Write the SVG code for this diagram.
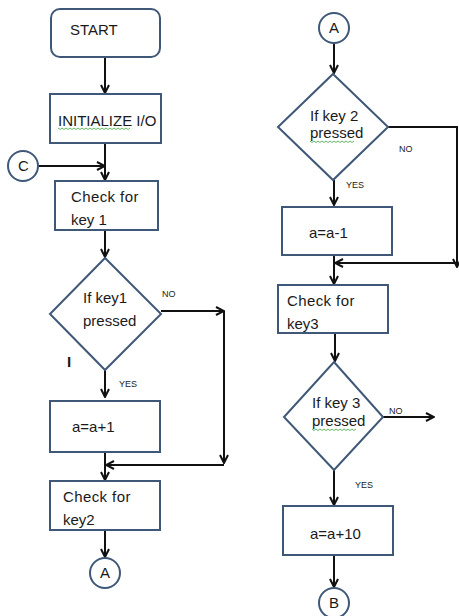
<svg xmlns="http://www.w3.org/2000/svg" width="459" height="616" viewBox="0 0 459 616">
<style>
.s{fill:#fff;stroke:#3f5878;stroke-width:2}
.t{font-family:"Liberation Sans",Arial,sans-serif;font-size:15px;fill:#1a1a1a}
.sm{font-family:"Liberation Sans",Arial,sans-serif;font-size:9px;fill:#1a1a1a}
.c{fill:none;stroke:#111;stroke-width:2}
.w{fill:none;stroke:#3da33d;stroke-width:0.8}
</style>
<defs>
<marker id="ah" viewBox="0 0 10 10" refX="9" refY="5" markerWidth="5" markerHeight="5" orient="auto" markerUnits="strokeWidth">
<path d="M1,1 L9,5 L1,9" fill="none" stroke="#111" stroke-width="2"/>
</marker>
</defs>
<rect width="459" height="616" fill="#fff"/>
<g id="connectors">
<path class="c" d="M105,58 V93" marker-end="url(#ah)"/>
<path class="c" d="M105,143 V180" marker-end="url(#ah)"/>
<path class="c" d="M39,166 H105" marker-end="url(#ah)"/>
<path class="c" d="M105,230 V257" marker-end="url(#ah)"/>
<path class="c" d="M161,311 H224" marker-end="url(#ah)"/>
<path class="c" d="M224,311 V463" marker-end="url(#ah)"/>
<path class="c" d="M224,465 H106" marker-end="url(#ah)"/>
<path class="c" d="M105,370 V397" marker-end="url(#ah)"/>
<path class="c" d="M105,452 V480" marker-end="url(#ah)"/>
<path class="c" d="M105,530 V557" marker-end="url(#ah)"/>
<path class="c" d="M334,44 V73" marker-end="url(#ah)"/>
<path class="c" d="M388,127 H457 V267" marker-end="url(#ah)"/>
<path class="c" d="M457,263 H335" marker-end="url(#ah)"/>
<path class="c" d="M334,180 V205" marker-end="url(#ah)"/>
<path class="c" d="M334,255 V284" marker-end="url(#ah)"/>
<path class="c" d="M335,333 V361" marker-end="url(#ah)"/>
<path class="c" d="M383,417 H434" marker-end="url(#ah)"/>
<path class="c" d="M334,470 V505" marker-end="url(#ah)"/>
<path class="c" d="M334,555 V587" marker-end="url(#ah)"/>
</g>
<g id="start"><rect class="s" x="51" y="9" width="109" height="48" rx="9"/><text class="t" x="70" y="35" font-size="14">START</text></g>
<g id="init"><rect class="s" x="50" y="94" width="111" height="49"/><text class="t" x="58" y="126" font-size="13">INITIALIZE  I/O</text><path class="w" d="M58,128 l2,1.5 2,-1.5 2,1.5 2,-1.5 2,1.5 2,-1.5 2,1.5 2,-1.5 2,1.5 2,-1.5 2,1.5 2,-1.5 2,1.5 2,-1.5 2,1.5 2,-1.5 2,1.5 2,-1.5 2,1.5 2,-1.5 2,1.5 2,-1.5 2,1.5 2,-1.5 2,1.5 2,-1.5 2,1.5 2,-1.5 2,1.5 2,-1.5 2,1.5 2,-1.5 2,1.5 2,-1.5 2,1.5 2,-1.5"/></g>
<g id="connC"><circle class="s" cx="23" cy="166" r="15"/><text class="t" x="18" y="171" font-size="14">C</text></g>
<g id="check1"><rect class="s" x="55" y="181" width="103" height="49"/><text class="t" x="71" y="202" letter-spacing="0.4">Check for</text><text class="t" x="71" y="225">key 1</text></g>
<g id="dec1"><path class="s" d="M105,258 L161,314 L105,370 L50,314 Z"/><text class="t" x="83" y="303">If key1</text><text class="t" x="83" y="326">pressed</text><text class="sm" x="162" y="297">NO</text><text class="sm" x="119" y="387">YES</text><text class="t" x="67" y="367" font-weight="bold" fill="#000">I</text></g>
<g id="inc1"><rect class="s" x="50" y="401" width="110" height="51"/><text class="t" x="72" y="432">a=a+1</text></g>
<g id="check2"><rect class="s" x="50" y="481" width="110" height="49"/><text class="t" x="63" y="502" letter-spacing="0.4">Check for</text><text class="t" x="63" y="525">key2</text></g>
<g id="connA1"><circle class="s" cx="105" cy="573" r="15"/><text class="t" x="100" y="578" font-size="14">A</text></g>
<g id="connA2"><circle class="s" cx="334" cy="28" r="15"/><text class="t" x="329" y="33" font-size="14">A</text></g>
<g id="dec2"><path class="s" d="M333,74 L388,127 L333,180 L278,127 Z"/><text class="t" x="310" y="121" font-size="13">If key 2</text><text class="t" x="310" y="138" font-size="13">pressed</text><path class="w" d="M310,141 l2,1.5 2,-1.5 2,1.5 2,-1.5 2,1.5 2,-1.5 2,1.5 2,-1.5 2,1.5 2,-1.5 2,1.5 2,-1.5 2,1.5 2,-1.5 2,1.5 2,-1.5 2,1.5 2,-1.5 2,1.5 2,-1.5 2,1.5 2,-1.5"/><text class="sm" x="399" y="152">NO</text><text class="sm" x="346" y="188">YES</text></g>
<g id="dec1b"><rect class="s" x="282" y="207" width="110" height="48"/><text class="t" x="309" y="238">a=a-1</text></g>
<g id="check3"><rect class="s" x="278" y="285" width="110" height="48"/><text class="t" x="287" y="306" letter-spacing="0.4">Check for</text><text class="t" x="287" y="329">key3</text></g>
<g id="dec3"><path class="s" d="M334,362 L383,417 L334,470 L284,417 Z"/><text class="t" x="312" y="408" font-size="13">If key 3</text><text class="t" x="312" y="426" font-size="13">pressed</text><path class="w" d="M312,429 l2,1.5 2,-1.5 2,1.5 2,-1.5 2,1.5 2,-1.5 2,1.5 2,-1.5 2,1.5 2,-1.5 2,1.5 2,-1.5 2,1.5 2,-1.5 2,1.5 2,-1.5 2,1.5 2,-1.5 2,1.5 2,-1.5 2,1.5 2,-1.5"/><text class="sm" x="389" y="414">NO</text><text class="sm" x="355" y="488">YES</text></g>
<g id="inc10"><rect class="s" x="283" y="506" width="110" height="49"/><text class="t" x="310" y="539">a=a+10</text></g>
<g id="connB"><circle class="s" cx="334" cy="603" r="15"/><text class="t" x="329" y="608" font-size="14">B</text></g>
</svg>
